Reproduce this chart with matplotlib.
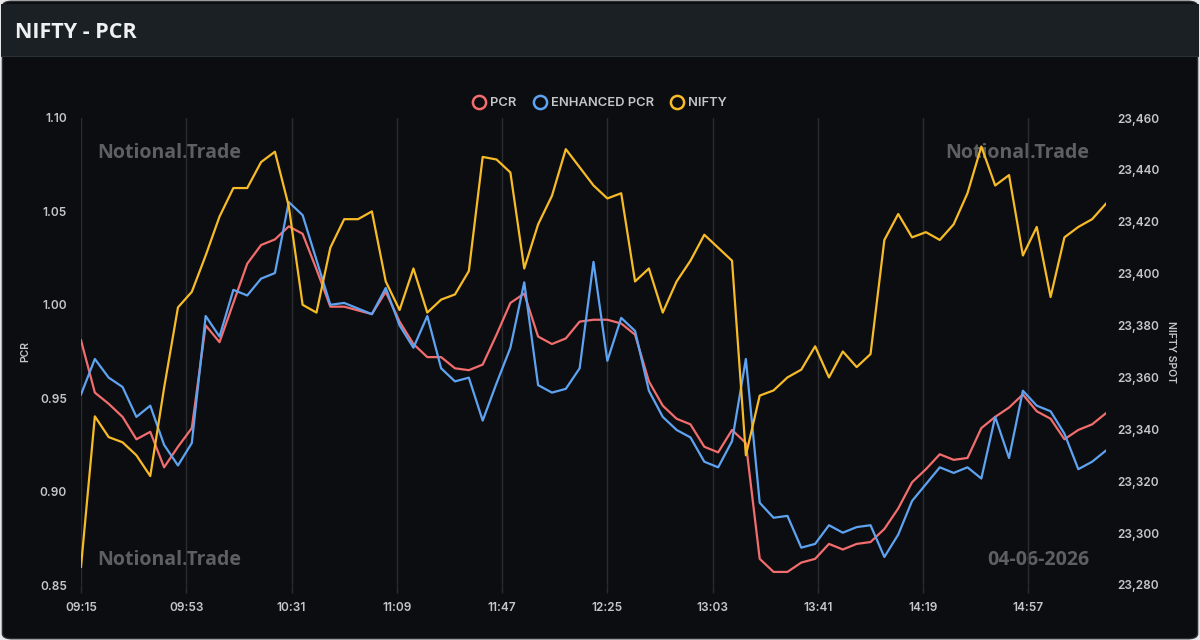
import numpy as np
import pandas as pd
import matplotlib
matplotlib.use("Agg")
import matplotlib.pyplot as plt
from matplotlib.lines import Line2D
from matplotlib.patches import Rectangle, FancyBboxPatch

plt.rcParams['font.family'] = ['Inter', 'DejaVu Sans']

# 5-minute samples from 09:15
times = pd.date_range("2026-06-04 09:15", periods=75, freq="5min")

pcr = [0.981, 0.953, 0.947, 0.940, 0.928, 0.932, 0.913, 0.924, 0.934, 0.989,
       0.980, 1.001, 1.022, 1.032, 1.035, 1.042, 1.038, 1.019, 0.999, 0.999,
       0.997, 0.995, 1.007, 0.991, 0.979, 0.972, 0.972, 0.966, 0.965, 0.968,
       0.984, 1.001, 1.006, 0.983, 0.979, 0.982, 0.991, 0.992, 0.992, 0.990,
       0.984, 0.959, 0.946, 0.939, 0.936, 0.924, 0.921, 0.933, 0.926, 0.864,
       0.857, 0.857, 0.862, 0.864, 0.872, 0.869, 0.872, 0.873, 0.880, 0.891,
       0.905, 0.912, 0.920, 0.917, 0.918, 0.934, 0.940, 0.945, 0.952, 0.943,
       0.939, 0.928, 0.933, 0.936, 0.942]

enhanced_pcr = [0.952, 0.971, 0.961, 0.956, 0.940, 0.946, 0.925, 0.914, 0.926, 0.994,
                0.983, 1.008, 1.005, 1.014, 1.017, 1.055, 1.048, 1.024, 1.000, 1.001,
                0.998, 0.995, 1.009, 0.989, 0.977, 0.994, 0.966, 0.959, 0.961, 0.938,
                0.958, 0.977, 1.012, 0.957, 0.953, 0.955, 0.966, 1.023, 0.970, 0.993,
                0.986, 0.954, 0.940, 0.933, 0.929, 0.916, 0.913, 0.927, 0.971, 0.894,
                0.886, 0.887, 0.870, 0.872, 0.882, 0.878, 0.881, 0.882, 0.865, 0.877,
                0.895, 0.904, 0.913, 0.910, 0.913, 0.907, 0.940, 0.918, 0.954, 0.946,
                0.943, 0.931, 0.912, 0.916, 0.922]

nifty = [23287, 23345, 23337, 23335, 23330, 23322, 23356, 23387, 23393, 23407,
         23422, 23433, 23433, 23443, 23447, 23426, 23388, 23385, 23410, 23421,
         23421, 23424, 23397, 23386, 23402, 23385, 23390, 23392, 23401, 23445,
         23444, 23439, 23402, 23419, 23430, 23448, 23441, 23434, 23429, 23431,
         23397, 23402, 23385, 23397, 23405, 23415, 23410, 23405, 23330, 23353,
         23355, 23360, 23363, 23372, 23360, 23370, 23364, 23369, 23413, 23423,
         23414, 23416, 23413, 23419, 23431, 23449, 23434, 23438, 23407, 23418,
         23391, 23414, 23418, 23421, 23427]

tick_labels = ["09:15", "09:53", "10:31", "11:09", "11:47",
               "12:25", "13:03", "13:41", "14:19", "14:57"]
pcr_ticks = [0.85, 0.90, 0.95, 1.00, 1.05, 1.10]
nifty_ticks = [23280, 23300, 23320, 23340, 23360, 23380, 23400, 23420, 23440, 23460]

bg = '#0c0d10'
txt = '#c4c6ca'
grid_c = '#2a2c31'
c_pcr = '#f26d6d'
c_enh = '#5ea3f2'
c_nifty = '#f7bb27'

fig = plt.figure(figsize=(12, 6.4), dpi=100, facecolor='#e8e8e8')
fig.patches.append(FancyBboxPatch((0.002, 0.002), 0.996, 0.996, boxstyle="round,pad=0,rounding_size=0.008",
                                  transform=fig.transFigure, facecolor=bg, edgecolor='#2a2f33', lw=1,
                                  zorder=-3))
fig.patches.append(Rectangle((0.001, 1 - 56 / 640), 0.998, 56 / 640 - 0.006, transform=fig.transFigure,
                             facecolor='#1a2024', edgecolor='none', zorder=-2))
fig.patches.append(Rectangle((0.001, 1 - 57 / 640), 0.998, 1.5 / 640, transform=fig.transFigure,
                             facecolor='#2b3236', edgecolor='none', zorder=-2))
fig.text(15 / 1200, 1 - 33 / 640, "NIFTY - PCR", color='#eef0f2', fontsize=15.5,
         fontweight='bold', va='center', ha='left', family=['Open Sans', 'DejaVu Sans'])

t0 = times[0]
x = (times - t0).total_seconds() / 60.0
tick_pos = [(pd.Timestamp("2026-06-04 " + t) - t0).total_seconds() / 60.0 for t in tick_labels]

ax = fig.add_axes([81 / 1200, 1 - 585 / 640, (1106 - 81) / 1200, (585 - 118) / 640])
ax.patch.set_visible(False)
ax2 = ax.twinx()

ax.plot(x, pcr, color=c_pcr, lw=1.6, zorder=3)
ax.plot(x, enhanced_pcr, color=c_enh, lw=1.6, zorder=3)
ax2.plot(x, nifty, color=c_nifty, lw=1.6, zorder=3)

ax.set_xlim(x[0], x[-1])
ax.set_ylim(0.85, 1.10)
ax2.set_ylim(23280, 23460)

ax.set_xticks(tick_pos)
ax.set_xticklabels(tick_labels)
ax.set_yticks(pcr_ticks)
ax.set_yticklabels([f"{v:.2f}" for v in pcr_ticks])
ax2.set_yticks(nifty_ticks)
ax2.set_yticklabels([f"{v:,}" for v in nifty_ticks])

for a in (ax, ax2):
    for s in a.spines.values():
        s.set_visible(False)
    a.tick_params(colors=txt, labelsize=8.5, length=0)
    for lab in a.get_xticklabels() + a.get_yticklabels():
        lab.set_fontweight('semibold')
ax.tick_params(axis='y', pad=10)
ax2.tick_params(axis='y', pad=8)
ax.tick_params(axis='x', length=6, width=1, color=grid_c, pad=6)
ax.grid(axis='x', color=grid_c, lw=1)
ax.set_axisbelow(True)

ax.set_ylabel("PCR", color=txt, fontsize=7.5, fontweight='semibold')
ax.yaxis.set_label_coords((30 - 81) / 1025, 0.5)
ax2.set_ylabel("NIFTY SPOT", color=txt, fontsize=7.5, fontweight='semibold', rotation=-90, va='center')
ax2.yaxis.set_label_coords((1171 - 81) / 1025, 0.5)

wm = dict(color='#5e5f62', fontsize=14, fontweight='bold', va='center', transform=fig.transFigure,
          family=['Open Sans', 'DejaVu Sans'], zorder=-1)
fig.text(97 / 1200, 1 - 153 / 640, "Notional.Trade", ha='left', **wm)
fig.text(1089 / 1200, 1 - 153 / 640, "Notional.Trade", ha='right', **wm)
fig.text(97 / 1200, 1 - 560 / 640, "Notional.Trade", ha='left', **wm)
fig.text(1089 / 1200, 1 - 560 / 640, "04-06-2026", ha='right', **wm)

handles = [Line2D([], [], ls='none', marker='o', markersize=9.5, markerfacecolor='none',
                  markeredgecolor=c, markeredgewidth=1.8) for c in (c_pcr, c_enh, c_nifty)]
leg = fig.legend(handles, ["PCR", "ENHANCED PCR", "NIFTY"], loc='center',
                 bbox_to_anchor=(600 / 1200, 1 - 103 / 640), ncol=3, frameon=False,
                 handletextpad=0.35, columnspacing=1.3, handlelength=1.0, fontsize=9.3)
for t in leg.get_texts():
    t.set_color(txt)
    t.set_fontweight('semibold')

fig.savefig("out.png", dpi=100, facecolor=fig.get_facecolor())
